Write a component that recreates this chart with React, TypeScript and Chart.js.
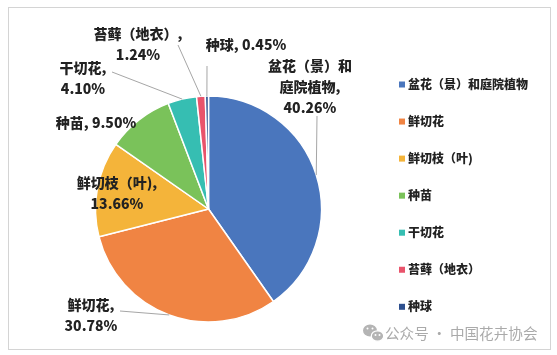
import React, { useEffect, useRef } from "react";
import { Chart, registerables } from "chart.js";

Chart.register(...registerables);

// ---- data ----
const categories = [
  "盆花（景）和庭院植物",
  "鲜切花",
  "鲜切枝（叶)",
  "种苗",
  "干切花",
  "苔藓（地衣）",
  "种球",
];
const shares = [40.26, 30.78, 13.66, 9.5, 4.1, 1.24, 0.45];
const sliceColors = [
  "#4A76BD",
  "#F08443",
  "#F4B43A",
  "#7AC25A",
  "#36BEB2",
  "#E9536B",
  "#2D4F8E",
];

// ---- label layout (style / placement only) ----
type LabelLayout = {
  breakAt?: number;
  pctOwnLine: boolean;
  x: number;
  y: number;
  leader?: [number, number];
};
const labelLayout: LabelLayout[] = [
  { breakAt: 6, pctOwnLine: true, x: 310, y: 66, leader: [317, 116] },
  { pctOwnLine: true, x: 91, y: 305, leader: [120, 311] },
  { pctOwnLine: true, x: 117, y: 183 },
  { pctOwnLine: false, x: 96, y: 123 },
  { pctOwnLine: true, x: 83, y: 68, leader: [112, 72] },
  { pctOwnLine: true, x: 138, y: 34, leader: [178, 45] },
  { pctOwnLine: false, x: 246, y: 45, leader: [207, 66] },
];

const LABEL_FONT = "900 14px 'Noto Sans CJK SC', 'Noto Sans', sans-serif";
const LEGEND_FONT = "900 12px 'Noto Sans CJK SC', 'Noto Sans', sans-serif";
const TEXT_COLOR = "#222222";

function labelLines(i: number): string[] {
  const name = categories[i];
  const lay = labelLayout[i];
  const pct = shares[i].toFixed(2) + "%";
  const lines: string[] =
    lay.breakAt !== undefined
      ? [name.slice(0, lay.breakAt), name.slice(lay.breakAt) + ","]
      : [name + ","];
  if (lay.pctOwnLine) lines.push(pct);
  else lines[lines.length - 1] += " " + pct;
  return lines;
}

const decorPlugin = {
  id: "decor",
  beforeDraw(chart: any) {
    const ctx = chart.ctx as CanvasRenderingContext2D;
    ctx.save();
    ctx.fillStyle = "#ffffff";
    ctx.fillRect(0, 0, chart.width, chart.height);
    ctx.strokeStyle = "#d4d4d4";
    ctx.lineWidth = 1;
    ctx.strokeRect(8.5, 7.5, 542, 342);
    ctx.restore();
  },
  afterDraw(chart: any) {
    const ctx = chart.ctx as CanvasRenderingContext2D;
    const meta = chart.getDatasetMeta(0);
    ctx.save();
    // leader lines
    ctx.strokeStyle = "#a6a6a6";
    ctx.lineWidth = 1;
    meta.data.forEach((arc: any, i: number) => {
      const lay = labelLayout[i];
      if (!lay.leader) return;
      const p = arc.getProps(["x", "y", "startAngle", "endAngle", "outerRadius"], true);
      const mid = (p.startAngle + p.endAngle) / 2;
      const ex = p.x + Math.cos(mid) * p.outerRadius;
      const ey = p.y + Math.sin(mid) * p.outerRadius;
      ctx.beginPath();
      ctx.moveTo(lay.leader[0], lay.leader[1]);
      ctx.lineTo(ex, ey);
      ctx.stroke();
    });
    // data labels
    ctx.font = LABEL_FONT;
    ctx.fillStyle = TEXT_COLOR;
    ctx.textAlign = "center";
    ctx.textBaseline = "middle";
    categories.forEach((_, i) => {
      const lay = labelLayout[i];
      labelLines(i).forEach((line, k) => {
        ctx.fillText(line, lay.x, lay.y + k * 20.7);
      });
    });
    // legend
    ctx.font = LEGEND_FONT;
    ctx.textAlign = "left";
    categories.forEach((name, i) => {
      const y = 84.5 + i * 37.05;
      ctx.fillStyle = sliceColors[i];
      ctx.fillRect(399, y - 3, 6, 6);
      ctx.fillStyle = TEXT_COLOR;
      ctx.fillText(name, 408, y);
    });
    // watermark
    ctx.fillStyle = "#b4b4b4";
    ctx.beginPath();
    ctx.ellipse(370, 330.5, 7, 6, 0, 0, Math.PI * 2);
    ctx.fill();
    ctx.strokeStyle = "#ffffff";
    ctx.lineWidth = 1.2;
    ctx.beginPath();
    ctx.ellipse(377.5, 336, 6.2, 5.2, 0, 0, Math.PI * 2);
    ctx.fill();
    ctx.stroke();
    ctx.fillStyle = "#ffffff";
    [[367.5, 328.5], [372.5, 328.5], [375.5, 335], [379.5, 335]].forEach(([x, y]) => {
      ctx.beginPath();
      ctx.arc(x, y, 1, 0, Math.PI * 2);
      ctx.fill();
    });
    ctx.fillStyle = "#aaaaaa";
    ctx.font = "14.6px 'Noto Sans CJK SC', sans-serif";
    ctx.textAlign = "left";
    ctx.fillText("公众号 · 中国花卉协会", 385, 333);
    ctx.restore();
  },
};

export default function App() {
  const canvasRef = useRef<HTMLCanvasElement | null>(null);

  useEffect(() => {
    if (!canvasRef.current) return;
    const chart = new Chart(canvasRef.current, {
      type: "pie",
      data: {
        labels: categories,
        datasets: [
          {
            data: shares,
            backgroundColor: sliceColors,
            borderColor: "#ffffff",
            borderWidth: 1.5,
          },
        ],
      },
      options: {
        responsive: false,
        animation: false,
        devicePixelRatio: 1,
        radius: 113,
        layout: { padding: { left: 95, top: 96, right: 235, bottom: 33 } },
        plugins: {
          legend: { display: false },
          tooltip: { enabled: false },
        },
      } as any,
      plugins: [decorPlugin],
    });
    return () => chart.destroy();
  }, []);

  return (
    <div style={{ position: "fixed", left: 0, top: 0, width: 557, height: 355, background: "#fff" }}>
      <canvas ref={canvasRef} width={557} height={355} style={{ display: "block" }} />
    </div>
  );
}
